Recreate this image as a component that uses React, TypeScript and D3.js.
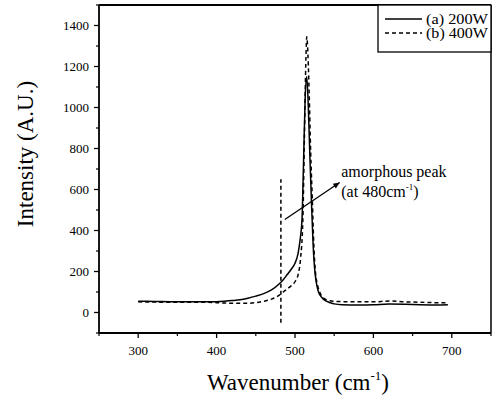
import React from "react";
import * as d3 from "d3";

// spectra
const wave200 = [300, 320, 340, 360, 380, 400, 410, 420, 430, 440, 450, 460, 470, 480, 485, 490, 495, 500, 504, 507, 509, 511, 513, 515, 517, 519, 521, 523, 525, 527, 530, 535, 540, 550, 560, 580, 600, 620, 640, 660, 680, 695];
const int200 = [55, 54, 53, 52, 52, 53, 55, 58, 62, 70, 80, 92, 110, 140, 160, 185, 210, 240, 290, 370, 460, 750, 1050, 1150, 1000, 760, 540, 340, 215, 150, 100, 70, 55, 42, 38, 37, 38, 41, 40, 38, 37, 38];

const wave400 = [300, 320, 340, 360, 380, 400, 420, 440, 450, 460, 470, 480, 485, 490, 495, 500, 504, 507, 510, 512, 514, 515, 516, 518, 520, 522, 524, 526, 529, 532, 536, 540, 550, 570, 600, 620, 640, 660, 680, 695];
const int400 = [52, 51, 50, 50, 50, 48, 45, 45, 48, 55, 65, 85, 100, 115, 130, 150, 185, 260, 450, 850, 1250, 1345, 1300, 1080, 780, 560, 330, 200, 130, 95, 72, 62, 55, 52, 52, 56, 52, 50, 48, 48];

const xTicks = [300, 400, 500, 600, 700];
const yTicks = [0, 200, 400, 600, 800, 1000, 1200, 1400];
const legendLabels = ["(a) 200W", "(b) 400W"];

// annotation (data units)
const markerX = 482;
const markerY = [-50, 650];
const arrowFrom = [487, 454];
const arrowTo = [557, 634];
const noteAt = [559, 663];

export default function App() {
  const width = 492;
  const height = 401;
  const left = 99;
  const right = 491;
  const top = 5;
  const bottom = 333;
  const font = "'Liberation Serif', 'Times New Roman', serif";

  const x = d3.scaleLinear().domain([250, 750]).range([left, right]);
  const y = d3.scaleLinear().domain([-100, 1500]).range([bottom, top]);

  const line = d3
    .line<[number, number]>()
    .x((d) => x(d[0]))
    .y((d) => y(d[1]))
    .curve(d3.curveMonotoneX);

  const s200 = wave200.map((w, i) => [w, int200[i]] as [number, number]);
  const s400 = wave400.map((w, i) => [w, int400[i]] as [number, number]);

  const xMinor = d3.range(250, 751, 50).filter((v) => !xTicks.includes(v));
  const yMinor = d3.range(-100, 1501, 100).filter((v) => !yTicks.includes(v));

  const ax = x(arrowFrom[0]);
  const ay = y(arrowFrom[1]);
  const bx = x(arrowTo[0]);
  const by = y(arrowTo[1]);
  const ang = Math.atan2(by - ay, bx - ax);
  const head = 7;
  const headPts = [
    [bx, by],
    [bx - head * Math.cos(ang - 0.4), by - head * Math.sin(ang - 0.4)],
    [bx - head * Math.cos(ang + 0.4), by - head * Math.sin(ang + 0.4)],
  ]
    .map((p) => p.join(","))
    .join(" ");

  return (
    <svg
      width={width}
      height={height}
      style={{ position: "absolute", left: 0, top: 0, background: "#fff" }}
      fontFamily={font}
    >
      {/* curves */}
      <path d={line(s200) ?? ""} fill="none" stroke="#000" strokeWidth={1.5} />
      <path d={line(s400) ?? ""} fill="none" stroke="#000" strokeWidth={1.5} strokeDasharray="4,3" />

      {/* annotation */}
      <line
        x1={x(markerX)}
        x2={x(markerX)}
        y1={y(markerY[0])}
        y2={y(markerY[1])}
        stroke="#000"
        strokeWidth={1.5}
        strokeDasharray="4,3"
      />
      <line x1={ax} y1={ay} x2={bx} y2={by} stroke="#000" strokeWidth={1.3} />
      <polygon points={headPts} fill="#000" />
      <text x={x(noteAt[0])} y={y(noteAt[1])} fontSize={16}>
        amorphous peak
      </text>
      <text x={x(noteAt[0])} y={y(noteAt[1]) + 20} fontSize={16}>
        (at 480cm
        <tspan dy={-7} fontSize={9}>-1</tspan>
        <tspan dy={7}>)</tspan>
      </text>

      {/* frame */}
      <line x1={left} x2={right} y1={top} y2={top} stroke="#000" strokeWidth={1.8} />
      <line x1={right} x2={right} y1={top} y2={bottom} stroke="#000" strokeWidth={1.5} />
      <line x1={left} x2={left} y1={top} y2={bottom} stroke="#000" strokeWidth={1.8} />
      <line x1={left} x2={right} y1={bottom} y2={bottom} stroke="#000" strokeWidth={1.8} />

      {/* y axis */}
      {yTicks.map((t) => (
        <g key={t}>
          <line x1={left - 5} x2={left} y1={y(t)} y2={y(t)} stroke="#000" strokeWidth={1.3} />
          <text x={left - 10} y={y(t) + 4.5} fontSize={13} textAnchor="end">
            {t}
          </text>
        </g>
      ))}
      {yMinor.map((t) => (
        <line key={t} x1={left - 3} x2={left} y1={y(t)} y2={y(t)} stroke="#000" strokeWidth={1.2} />
      ))}

      {/* x axis */}
      {xTicks.map((t) => (
        <g key={t}>
          <line x1={x(t)} x2={x(t)} y1={bottom} y2={bottom + 5} stroke="#000" strokeWidth={1.3} />
          <text x={x(t)} y={bottom + 22} fontSize={13} textAnchor="middle">
            {t}
          </text>
        </g>
      ))}
      {xMinor.map((t) => (
        <line key={t} x1={x(t)} x2={x(t)} y1={bottom} y2={bottom + 3} stroke="#000" strokeWidth={1.2} />
      ))}

      {/* axis titles */}
      <text
        transform={`translate(33, ${(top + bottom) / 2 - 15}) rotate(-90)`}
        fontSize={23}
        textAnchor="middle"
      >
        Intensity (A.U.)
      </text>
      <text x={(left + right) / 2 + 3} y={390} fontSize={23} textAnchor="middle">
        Wavenumber (cm
        <tspan dy={-10} fontSize={13}>-1</tspan>
        <tspan dy={10}>)</tspan>
      </text>

      {/* legend */}
      <rect x={378} y={top} width={right - 378} height={47} fill="#fff" stroke="#000" strokeWidth={1.3} />
      {legendLabels.map((lab, i) => (
        <g key={lab}>
          <line
            x1={385}
            x2={422}
            y1={19 + i * 14}
            y2={19 + i * 14}
            stroke="#000"
            strokeWidth={1.3}
            strokeDasharray={i === 1 ? "4,3" : undefined}
          />
          <text
            x={426}
            y={23.5 + i * 14}
            fontSize={14}
            textLength={62}
            lengthAdjust="spacingAndGlyphs"
          >
            {lab}
          </text>
        </g>
      ))}
    </svg>
  );
}
